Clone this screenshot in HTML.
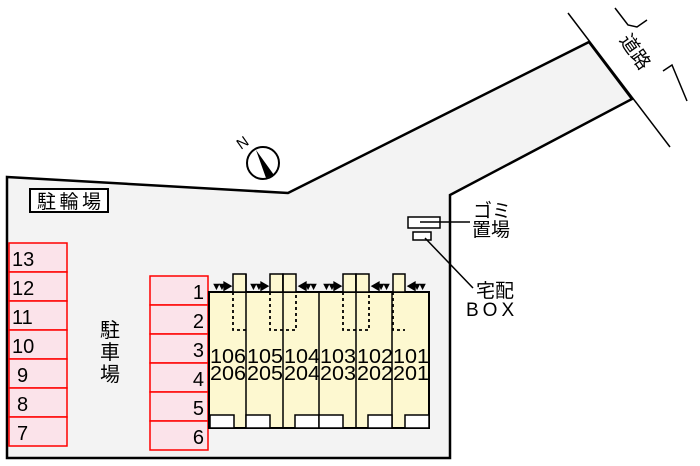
<!DOCTYPE html>
<html><head><meta charset="utf-8"><style>
body{margin:0;background:#fff;}
svg{display:block;font-family:"Liberation Sans","Noto Sans CJK JP",sans-serif;}
</style></head><body>
<svg width="700" height="466" viewBox="0 0 700 466" xmlns="http://www.w3.org/2000/svg">
<polygon points="7,177 288,193 589,42 632,99 450,195 450,458 7,458" fill="#f3f3f3" stroke="#000" stroke-width="2.5"/>
<line x1="568" y1="13" x2="670" y2="147" stroke="#000" stroke-width="1.5"/>
<polyline points="615,8 628,25 637,27 647,20" fill="none" stroke="#000" stroke-width="1.5"/>
<polyline points="663,71 672,65 687,101" fill="none" stroke="#000" stroke-width="1.5"/>
<text x="0" y="0" font-size="19" transform="translate(619,40) rotate(55)">道路</text>
<!-- compass -->
<circle cx="263" cy="163" r="16" fill="#fff" stroke="#000" stroke-width="2"/>
<polygon points="256,150 274,175 266,178" fill="#000"/>
<text x="0" y="0" font-size="15" transform="translate(241,150) rotate(-35)">N</text>
<!-- bike -->
<rect x="30" y="189" width="78" height="23" fill="#fff" stroke="#000" stroke-width="2"/>
<text x="37" y="208" font-size="19" textLength="64">駐輪場</text>
<!-- parking -->
<g fill="#fbe3ea" stroke="#f00" stroke-width="1.5">
<rect x="9" y="243" width="58" height="29"/><rect x="9" y="272" width="58" height="29"/><rect x="9" y="301" width="58" height="29"/><rect x="9" y="330" width="58" height="29"/><rect x="9" y="359" width="58" height="29"/><rect x="9" y="388" width="58" height="29"/><rect x="9" y="417" width="58" height="29"/>
<rect x="150" y="276" width="58" height="29"/><rect x="150" y="305" width="58" height="29"/><rect x="150" y="334" width="58" height="29"/><rect x="150" y="363" width="58" height="29"/><rect x="150" y="392" width="58" height="29"/><rect x="150" y="421" width="58" height="29"/>
</g>
<g font-size="20" fill="#000">
<text x="12" y="266">13</text><text x="12" y="295">12</text><text x="12" y="324">11</text><text x="12" y="353">10</text><text x="17" y="382">9</text><text x="17" y="411">8</text><text x="17" y="440">7</text>
<g text-anchor="end"><text x="204" y="299">1</text><text x="204" y="328">2</text><text x="204" y="357">3</text><text x="204" y="386">4</text><text x="204" y="415">5</text><text x="204" y="444">6</text></g>
</g>
<g font-size="20"><text x="100" y="337">駐</text><text x="100" y="359">車</text><text x="100" y="381">場</text></g>
<!-- building -->
<rect x="209" y="292" width="220" height="136" fill="#fdf8d0" stroke="#000" stroke-width="2"/>
<g fill="#fdf8d0" stroke="#000" stroke-width="1.5">
<rect x="233" y="274" width="13" height="18"/><rect x="270" y="274" width="13" height="18"/><rect x="283" y="274" width="13" height="18"/><rect x="343" y="274" width="13" height="18"/><rect x="356" y="274" width="13" height="18"/><rect x="393" y="274" width="12" height="18"/>
</g>
<g stroke="#000" stroke-width="1.5">
<line x1="246" y1="274" x2="246" y2="428"/><line x1="283" y1="274" x2="283" y2="428"/><line x1="319" y1="292" x2="319" y2="428"/><line x1="356" y1="274" x2="356" y2="428"/><line x1="392" y1="292" x2="392" y2="428"/>
</g>
<g fill="none" stroke="#000" stroke-width="1.8" stroke-dasharray="3,3">
<polyline points="233,292 233,330 246,330"/><polyline points="270,292 270,330 296,330 296,292"/><polyline points="343,292 343,330 369,330 369,292"/><polyline points="393,292 393,330 405,330"/>
</g>
<g fill="#fff" stroke="#000" stroke-width="1.5">
<rect x="210" y="415" width="24" height="13"/><rect x="246" y="415" width="24" height="13"/><rect x="295" y="415" width="24" height="13"/><rect x="319" y="415" width="24" height="13"/><rect x="368" y="415" width="24" height="13"/><rect x="405" y="415" width="24" height="13"/>
</g>
<g font-size="11" fill="#000">
<text x="211" y="290" textLength="22">▼▼▶</text><text x="248" y="290" textLength="22">▼▼▶</text><text x="297" y="290" textLength="22">◀▼▼</text><text x="321" y="290" textLength="22">▼▼▶</text><text x="370" y="290" textLength="22">◀▼▼</text><text x="406" y="290" textLength="22">◀▼▼</text>
</g>
<g font-size="20" fill="#000">
<text x="210" y="363" textLength="36" lengthAdjust="spacingAndGlyphs">106</text><text x="247" y="363" textLength="36" lengthAdjust="spacingAndGlyphs">105</text><text x="284" y="363" textLength="36" lengthAdjust="spacingAndGlyphs">104</text><text x="320" y="363" textLength="36" lengthAdjust="spacingAndGlyphs">103</text><text x="357" y="363" textLength="36" lengthAdjust="spacingAndGlyphs">102</text><text x="393" y="363" textLength="36" lengthAdjust="spacingAndGlyphs">101</text>
<text x="210" y="380" textLength="36" lengthAdjust="spacingAndGlyphs">206</text><text x="247" y="380" textLength="36" lengthAdjust="spacingAndGlyphs">205</text><text x="284" y="380" textLength="36" lengthAdjust="spacingAndGlyphs">204</text><text x="320" y="380" textLength="36" lengthAdjust="spacingAndGlyphs">203</text><text x="357" y="380" textLength="36" lengthAdjust="spacingAndGlyphs">202</text><text x="393" y="380" textLength="36" lengthAdjust="spacingAndGlyphs">201</text>
</g>
<!-- gomi / box -->
<rect x="408" y="217" width="32" height="11" fill="#fff" stroke="#000" stroke-width="1.5"/>
<line x1="420" y1="222" x2="470" y2="222" stroke="#000" stroke-width="1.5"/>
<rect x="413" y="232" width="18" height="8" fill="#fff" stroke="#000" stroke-width="1.5"/>
<line x1="425" y1="238" x2="473" y2="288" stroke="#000" stroke-width="1.5"/>
<g font-size="19" fill="#000">
<text x="473" y="217">ゴミ</text><text x="472" y="236">置場</text><text x="476" y="297">宅配</text><text x="466" y="316" letter-spacing="4">BOX</text>
</g>
</svg>
</body></html>
